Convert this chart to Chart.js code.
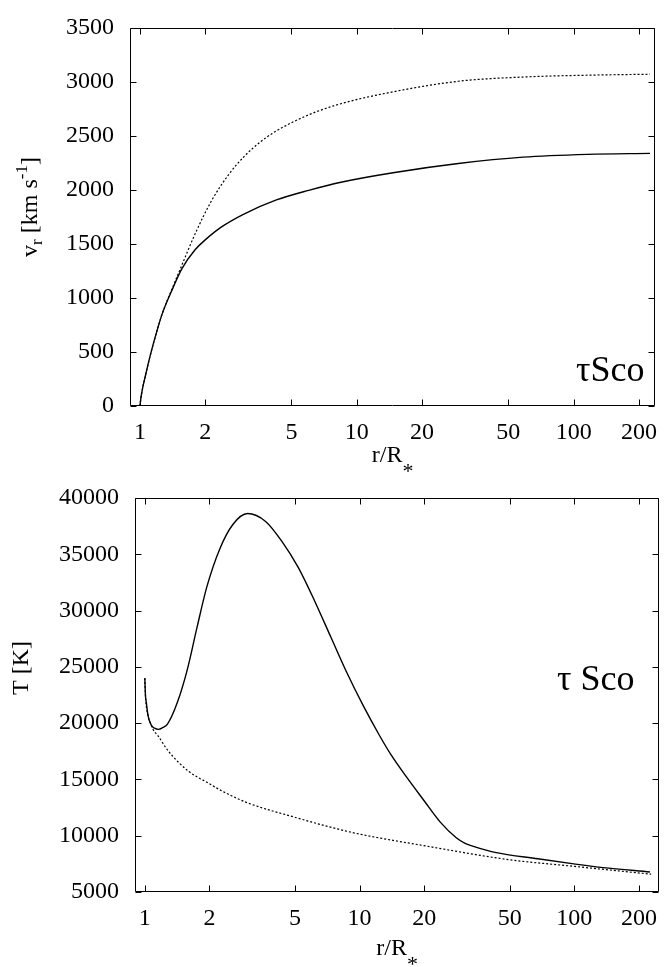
<!DOCTYPE html>
<html><head><meta charset="utf-8">
<script src="https://cdn.jsdelivr.net/npm/chart.js@4/dist/chart.umd.min.js"></script>
<style>
html,body{margin:0;padding:0;background:#fff;}
#wrap{position:relative;width:672px;height:967px;overflow:hidden;}
canvas{position:absolute;left:0;}
</style></head><body>
<div id="wrap">
<canvas id="c1" width="672" height="490" style="top:0;width:672px;height:490px"></canvas>
<canvas id="c2" width="672" height="497" style="top:470px;width:672px;height:497px"></canvas>
</div>
<script>
// ---- data ----
const xTicks = [1, 2, 5, 10, 20, 50, 100, 200];
const vTicks = [0, 500, 1000, 1500, 2000, 2500, 3000, 3500];
const tTicks = [5000, 10000, 15000, 20000, 25000, 30000, 35000, 40000];

// top panel: radial velocity v_r (km/s) vs r/R*
const rVSolid = [1, 1.01, 1.03, 1.06, 1.11, 1.2, 1.27, 1.41, 1.56, 1.8, 2.0, 2.37, 3.0, 4.26, 6.0, 8.45, 14.7, 29.4, 58.4, 116, 225];
const vSolid  = [0, 70, 170, 280, 450, 700, 860, 1080, 1270, 1449, 1538, 1656, 1775, 1908, 1997, 2072, 2160, 2245, 2304, 2330, 2339];
const rVDashed = [1, 1.01, 1.03, 1.06, 1.11, 1.2, 1.27, 1.41, 1.565, 1.8, 2.13, 2.54, 3.02, 3.58, 4.26, 6.0, 8.45, 14.7, 29.4, 58.4, 116, 225];
const vDashed  = [0, 70, 170, 280, 450, 700, 860, 1090, 1310, 1597, 1894, 2131, 2309, 2443, 2547, 2696, 2799, 2909, 3007, 3046, 3063, 3072];

// bottom panel: temperature T (K) vs r/R*
const rTSolid = [1, 1.007, 1.015, 1.035, 1.073, 1.11, 1.158, 1.21, 1.277, 1.418, 1.577, 1.75, 1.944, 2.236, 2.57, 3.01, 3.65, 4.34, 5.18, 6.16, 7.33, 8.73, 10.4, 12.4, 14.0, 16.6, 19.9, 23.7, 28.2, 31, 33.6, 42.7, 67.6, 99.5, 136, 225];
const tSolid  = [24000, 22430, 21900, 20676, 19800, 19550, 19450, 19600, 19940, 21850, 24760, 28500, 32100, 35500, 37650, 38620, 37920, 36170, 33830, 30900, 27690, 24470, 21550, 18880, 17200, 15175, 13150, 11230, 9820, 9320, 9080, 8520, 7950, 7500, 7170, 6780];
const rTDashed = [1, 1.007, 1.035, 1.073, 1.091, 1.15, 1.277, 1.43, 1.604, 1.75, 1.91, 2.3, 3.01, 5.08, 7.42, 9.97, 19.9, 49.8, 99.5, 228];
const tDashed  = [24000, 22430, 20676, 19800, 19450, 18900, 17600, 16550, 15700, 15230, 14830, 13950, 12920, 11600, 10730, 10150, 9120, 7870, 7280, 6580];

// ---- helpers ----
const FONT = '"Liberation Serif", "Times New Roman", serif';
const pts = (xs, ys) => xs.map((x, i) => ({x: x, y: ys[i]}));

function drawRich(ctx, parts, cx, cy, rotated) {
  ctx.save();
  let total = 0;
  parts.forEach(p => { ctx.font = p.f + 'px ' + FONT; total += ctx.measureText(p.t).width; });
  ctx.translate(cx, cy);
  if (rotated) ctx.rotate(-Math.PI / 2);
  ctx.fillStyle = '#000';
  ctx.textBaseline = 'alphabetic';
  ctx.textAlign = 'left';
  let x = -total / 2;
  parts.forEach(p => {
    ctx.font = p.f + 'px ' + FONT;
    ctx.fillText(p.t, x, p.dy || 0);
    x += ctx.measureText(p.t).width;
  });
  ctx.restore();
}

const framePlugin = {
  id: 'frame',
  afterDraw(chart, args, opts) {
    const {ctx, chartArea: a, scales} = chart;
    const x = scales.x, y = scales.y;
    ctx.save();
    ctx.strokeStyle = '#000';
    ctx.lineWidth = 1;
    const L = Math.round(a.left) + 0.5, R = Math.round(a.right) - 0.5;
    const T = Math.round(a.top) + 0.5, B = Math.round(a.bottom) - 0.5;
    ctx.beginPath();
    ctx.rect(L, T, R - L, B - T);
    const tl = 6;
    xTicks.forEach(v => {
      const px = Math.round(x.getPixelForValue(v)) + 0.5;
      if (px < L || px > R) return;
      ctx.moveTo(px, B); ctx.lineTo(px, B - tl);
      ctx.moveTo(px, T); ctx.lineTo(px, T + tl);
    });
    opts.yTicks.forEach(v => {
      const py = Math.round(y.getPixelForValue(v)) + 0.5;
      ctx.moveTo(L, py); ctx.lineTo(L + tl, py);
      ctx.moveTo(R, py); ctx.lineTo(R - tl, py);
    });
    ctx.stroke();
    ctx.restore();
    // titles
    const cxArea = (a.left + a.right) / 2;
    drawRich(ctx, [{t: 'r/R', f: 24}, {t: '*', f: 22, dy: 16}], cxArea, opts.xTitleY, false);
    drawRich(ctx, opts.yTitle, opts.yTitleX, opts.yTitleY, true);
    ctx.save();
    ctx.font = opts.labelSize + 'px ' + FONT;
    ctx.fillStyle = '#000';
    ctx.textAlign = 'left';
    ctx.textBaseline = 'alphabetic';
    ctx.fillText(opts.label, opts.labelX, opts.labelY);
    ctx.restore();
  }
};

function makeChart(id, cfg) {
  return new Chart(document.getElementById(id), {
    type: 'line',
    data: {
      datasets: [
        {data: cfg.solid, borderColor: '#000', borderWidth: 1.4, pointRadius: 0, fill: false, cubicInterpolationMode: 'monotone'},
        {data: cfg.dashed, borderColor: '#000', borderWidth: 1.2, borderDash: [2, 2], pointRadius: 0, fill: false, cubicInterpolationMode: 'monotone'}
      ]
    },
    options: {
      responsive: false,
      animation: false,
      devicePixelRatio: 1,
      events: [],
      layout: {padding: {left: 0, right: cfg.padRight, top: cfg.padTop, bottom: 0}},
      plugins: {
        legend: {display: false},
        tooltip: {enabled: false},
        frame: cfg.frame
      },
      scales: {
        x: {
          type: 'logarithmic',
          min: cfg.xMin, max: cfg.xMax,
          grid: {display: false, drawTicks: false},
          border: {display: false},
          afterBuildTicks: s => { s.ticks = xTicks.map(v => ({value: v, major: false})); },
          afterFit: s => { s.height = cfg.xHeight; },
          ticks: {
            autoSkip: false, maxRotation: 0, padding: 15, color: '#000',
            font: {family: FONT, size: 24, lineHeight: 1},
            callback: v => String(v)
          }
        },
        y: {
          type: 'linear',
          min: cfg.yMin, max: cfg.yMax,
          grid: {display: false, drawTicks: false},
          border: {display: false},
          afterBuildTicks: s => { s.ticks = cfg.yTicks.map(v => ({value: v})); },
          afterFit: s => { s.width = cfg.yWidth; },
          ticks: {
            padding: 16, color: '#000',
            font: {family: FONT, size: 24, lineHeight: 1},
            callback: v => String(v)
          }
        }
      }
    },
    plugins: [framePlugin]
  });
}

makeChart('c1', {
  solid: pts(rVSolid, vSolid), dashed: pts(rVDashed, vDashed),
  xMin: 0.9, xMax: 238, yMin: 0, yMax: 3500, yTicks: vTicks,
  padRight: 3, padTop: 13, xHeight: 84, yWidth: 130,
  frame: {
    yTicks: vTicks, xTitleY: 462,
    yTitle: [{t: 'v', f: 24}, {t: 'r', f: 17, dy: 5}, {t: ' [km s', f: 24}, {t: '-1', f: 17, dy: -10}, {t: ']', f: 24}],
    yTitleX: 37, yTitleY: 207,
    label: 'τSco', labelSize: 36, labelX: 576, labelY: 381
  }
});

makeChart('c2', {
  solid: pts(rTSolid, tSolid), dashed: pts(rTDashed, tDashed),
  xMin: 0.9, xMax: 249, yMin: 5000, yMax: 40000, yTicks: tTicks,
  padRight: 1, padTop: 23, xHeight: 75, yWidth: 135,
  frame: {
    yTicks: tTicks, xTitleY: 485,
    yTitle: [{t: 'T [K]', f: 24}],
    yTitleX: 28, yTitleY: 198,
    label: 'τ Sco', labelSize: 36, labelX: 557, labelY: 220
  }
});
</script>
</body></html>
